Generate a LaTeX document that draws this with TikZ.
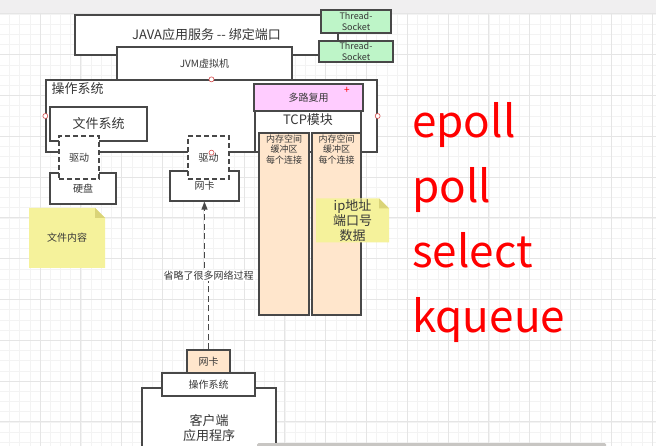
\documentclass[tikz,border=0pt]{standalone}
\usepackage{fontspec}
\setmainfont{Noto Sans CJK SC}
\usepackage{tikz}
\usetikzlibrary{positioning,calc,arrows.meta}
\definecolor{boxline}{RGB}{72,72,72}
\definecolor{txtgray}{RGB}{55,55,55}
\definecolor{threadgreen}{RGB}{190,245,200}
\definecolor{muxpink}{RGB}{255,204,255}
\definecolor{bufpeach}{RGB}{255,230,204}
\definecolor{notefill}{RGB}{245,242,155}
\definecolor{notefold}{RGB}{218,212,120}
\definecolor{gridminor}{RGB}{243,243,243}
\definecolor{gridmajor}{RGB}{229,229,229}
\definecolor{topband}{RGB}{240,239,240}
\definecolor{pointred}{RGB}{215,80,80}
\definecolor{scrollgray}{RGB}{200,198,195}
\newcommand{\dgbig}{\fontsize{13}{15}\selectfont}
\newcommand{\dgsmall}{\fontsize{10}{11.5}\selectfont}
\newcommand{\dgtiny}{\fontsize{9}{10.5}\selectfont}
\newcommand{\dgred}{\fontsize{44}{48}\selectfont}
\tikzset{
  sysbox/.style={
    rectangle, draw=boxline, fill=white, line width=1.3pt,
    inner sep=1pt, align=center, text=txtgray
  },
  threadbox/.style={
    sysbox, fill=threadgreen, minimum width=70pt, minimum height=23pt,
    font=\dgtiny
  },
  drvbox/.style={
    sysbox, dash pattern=on 5pt off 3pt, minimum width=40pt,
    minimum height=43pt, font=\dgsmall
  },
  devbox/.style={sysbox, font=\dgsmall},
  bufcol/.style={
    sysbox, fill=bufpeach, minimum width=50pt, minimum height=182pt
  },
  bufnote/.style={font=\dgtiny, text=txtgray, align=center, inner sep=2pt},
  notebox/.style={
    rectangle, inner sep=1pt, align=center, text=txtgray,
    path picture={
      \fill[notefill] (path picture bounding box.south west)
        -- (path picture bounding box.north west)
        -- ([xshift=-10pt]path picture bounding box.north east)
        -- ([yshift=-10pt]path picture bounding box.north east)
        -- (path picture bounding box.south east) -- cycle;
      \fill[notefold] ([xshift=-10pt]path picture bounding box.north east)
        -- ([yshift=-10pt]path picture bounding box.north east)
        -- ([xshift=-10pt,yshift=-10pt]path picture bounding box.north east)
        -- cycle;
    }
  },
  gridline/.style={draw=gridminor, line width=0.5pt},
  gridbold/.style={draw=gridmajor, line width=0.8pt},
  netarrow/.style={
    draw=boxline, line width=1.4pt, dash pattern=on 6pt off 3.5pt,
    -{Triangle[length=8pt, width=6pt]}
  },
  pathlabel/.style={fill=white, font=\dgsmall, text=txtgray, inner sep=1pt},
  redword/.style={text=red, font=\dgred, anchor=base west, inner sep=0pt},
  conpoint/.style={draw=pointred, fill=white, line width=0.6pt}
}
\begin{document}
\begin{tikzpicture}[x=1pt, y=-1pt]
  \clip (0,0) rectangle (656,446);
  % canvas and grid
  \fill[white] (0,0) rectangle (656,446);
  \fill[topband] (0,0) rectangle (656,13);
  \foreach \i in {-4,...,60}
    \draw[gridline] ({40+10.2*\i},13) -- ({40+10.2*\i},446);
  \foreach \j in {0,...,42}
    \draw[gridline] (0,{13.8+10.2*\j}) -- (656,{13.8+10.2*\j});
  \foreach \i in {-1,...,15}
    \draw[gridbold] ({40+40.8*\i},13) -- ({40+40.8*\i},446);
  \foreach \j in {0,...,10}
    \draw[gridbold] (0,{13.8+40.8*\j}) -- (656,{13.8+40.8*\j});

  % server side
  \node[sysbox, minimum width=263pt, minimum height=40pt, font=\dgbig] (java)
    at (206.5,35) {JAVA应用服务 -{}- 绑定端口};
  \node[threadbox] (thread1) at (356,21.5) {Thread-\\Socket};
  \node[threadbox, minimum width=74pt, minimum height=21pt] (thread2)
    at (356,51.5) {Thread-\\Socket};
  \node[sysbox, minimum width=175pt, minimum height=33pt, font=\dgsmall] (jvm)
    at (204.5,63.5) {JVM虚拟机};
  \node[sysbox, minimum width=331pt, minimum height=72pt] (os) at (211.5,116) {};
  \node[font=\dgbig, text=txtgray, anchor=north west, inner sep=2pt] (oslabel)
    at ($(os.north west)+(4,1)$) {操作系统};

  % multiplexing and TCP module
  \node[sysbox, fill=muxpink, minimum width=109pt, minimum height=27pt,
    font=\dgsmall] (mux) at (308.5,97.5) {多路复用};
  \node[text=red, font=\dgsmall, inner sep=0pt] (muxplus) at (347,90) {+};
  \node[sysbox, minimum width=106pt, minimum height=41pt,
    label={[font=\dgbig, text=txtgray, anchor=north, inner sep=3pt]north:TCP模块}]
    (tcp) at (308,131.5) {};
  \node[bufcol, label={[bufnote, anchor=north]north:{内存空间\\缓冲区\\每个连接}}]
    (buf1) at (284,224) {};
  \node[bufcol, minimum width=49pt,
    label={[bufnote, anchor=north]north:{内存空间\\缓冲区\\每个连接}}]
    (buf2) at (336.5,224) {};
  \node[notebox, minimum width=73pt, minimum height=43pt, font=\dgbig] (packet)
    at (352.5,220.5) {ip地址\\端口号\\数据};

  % file system and devices
  \node[sysbox, minimum width=97pt, minimum height=34pt, font=\dgbig] (fs)
    at (98.5,124) {文件系统};
  \node[devbox, minimum width=66pt, minimum height=31pt] (disk)
    at (83,188.5) {硬盘};
  \node[drvbox] (drvfs) at (79,157.5) {驱动};
  \node[devbox, minimum width=69pt, minimum height=30pt] (nic)
    at (204.5,186) {网卡};
  \node[drvbox, minimum width=41pt] (drvnic) at (208.5,157.5) {驱动};
  \node[notebox, minimum width=76pt, minimum height=60pt, font=\dgsmall] (content)
    at (67,238) {文件内容};

  % client side
  \node[sysbox, minimum width=134pt, minimum height=80pt, font=\dgbig] (capp)
    at (209,428) {客户端\\应用程序};
  \node[devbox, minimum width=93pt, minimum height=23pt] (cos)
    at (208.5,384.5) {操作系统};
  \node[devbox, fill=bufpeach, minimum width=43pt, minimum height=23pt] (cnic)
    at (208.5,361.5) {网卡};

  % network path
  \draw[netarrow] (cnic.north) -- ++(0,-74)
    node[pathlabel] (skip) {省略了很多网络过程} -| (nic.south);

  % IO models
  \foreach \w [count=\i] in {epoll,poll,select,kqueue}
    \node[redword] (word\i) at (412,{138+64.7*(\i-1)}) {\w};

  % connection points
  \foreach \a in {north,west,east,south}
    \draw[conpoint] (os.\a) circle (2.5);
  \fill[scrollgray, rounded corners=1.5pt] (257,443) rectangle (606,448);
\end{tikzpicture}
\end{document}
